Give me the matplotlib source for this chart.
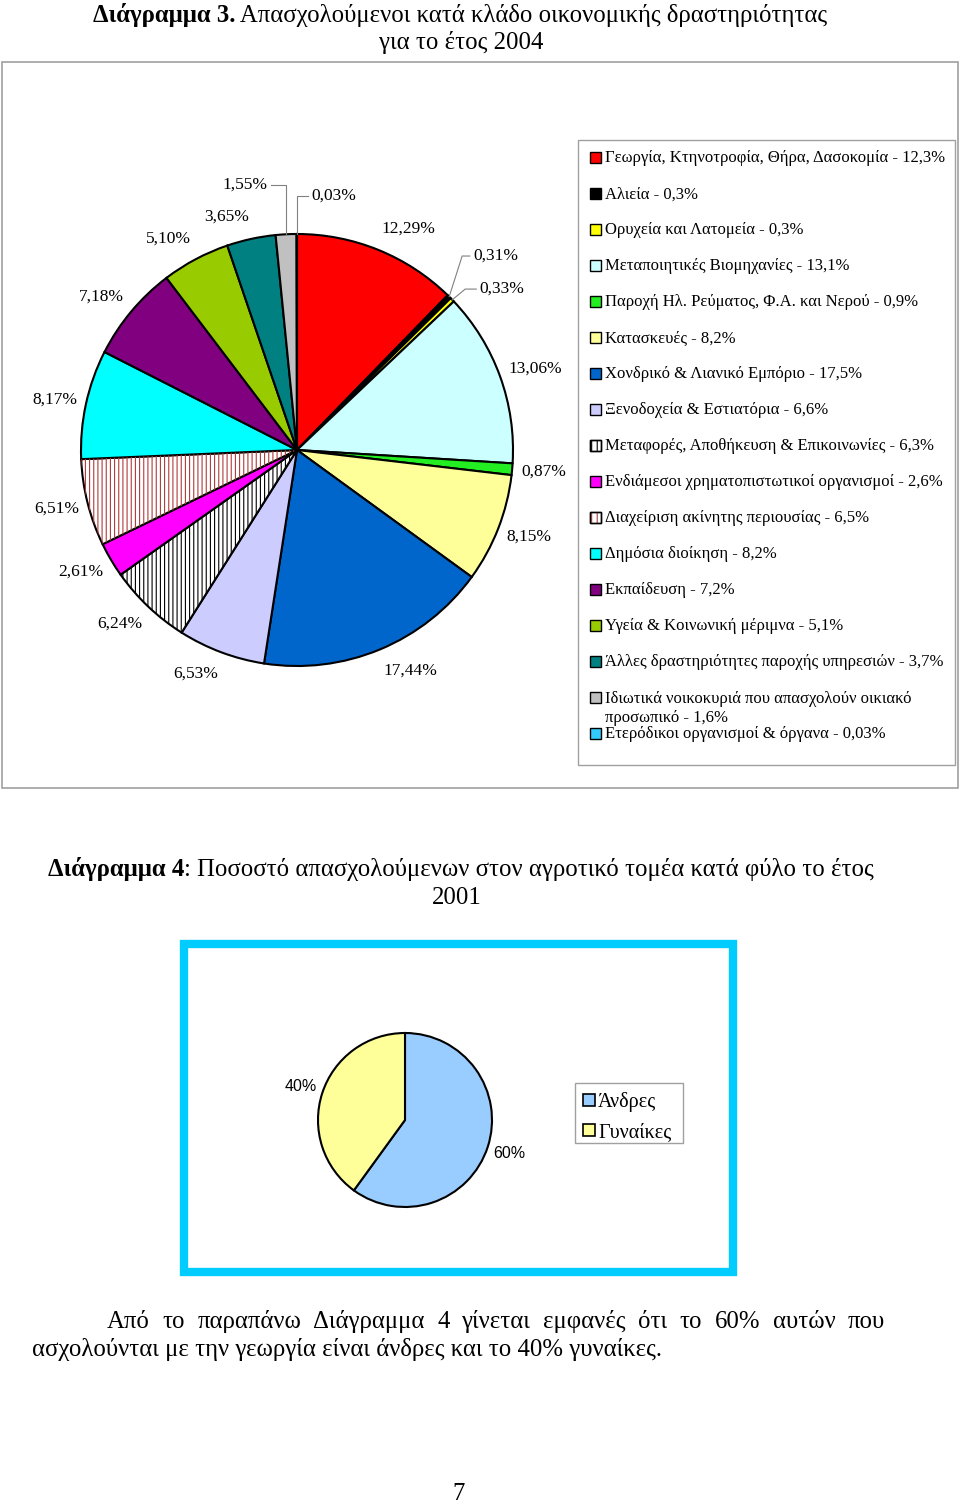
import numpy as np
import matplotlib.pyplot as plt
from matplotlib.patches import Rectangle, Wedge

plt.rcParams['font.family'] = ['Liberation Serif', 'DejaVu Serif']
plt.rcParams['hatch.linewidth'] = 0.8

# Diagram 3: employment by sector, 2004 (pie slice values and legend values)
sectors = ['Γεωργία, Κτηνοτροφία, Θήρα, Δασοκομία', 'Αλιεία', 'Ορυχεία και Λατομεία',
           'Μεταποιητικές Βιομηχανίες', 'Παροχή Ηλ. Ρεύματος, Φ.Α. και Νερού',
           'Κατασκευές ', 'Χονδρικό & Λιανικό Εμπόριο', 'Ξενοδοχεία & Εστιατόρια',
           'Μεταφορές, Αποθήκευση & Επικοινωνίες', 'Ενδιάμεσοι χρηματοπιστωτικοί οργανισμοί ',
           'Διαχείριση ακίνητης περιουσίας', 'Δημόσια διοίκηση ', 'Εκπαίδευση',
           'Υγεία & Κοινωνική μέριμνα', 'Άλλες δραστηριότητες παροχής υπηρεσιών',
           'Ιδιωτικά νοικοκυριά που απασχολούν οικιακό\nπροσωπικό ', 'Ετερόδικοι οργανισμοί & όργανα ']
shares = [12.29, 0.31, 0.33, 13.06, 0.87, 8.15, 17.44, 6.53, 6.24, 2.61, 6.51, 8.17, 7.18, 5.10, 3.65, 1.55, 0.03]
legend_shares = ['12,3%', '0,3%', '0,3%', '13,1%', '0,9%', '8,2%', '17,5%', '6,6%', '6,3%',
                 '2,6%', '6,5%', '8,2%', '7,2%', '5,1%', '3,7%', '1,6%', '0,03%']
colours = ['#FF0000', '#000000', '#FFFF00', '#CCFFFF', '#22EE22', '#FFFF99', '#0066CC', '#CCCCFF',
           '#FFFFFF', '#FF00FF', '#FFFFFF', '#00FFFF', '#800080', '#99CC00', '#008080', '#C0C0C0', '#33CCFF']
hatches = {8: 'black', 10: '#B03A3A'}

# Diagram 4: agriculture by sex, 2001
sexes = ['Άνδρες', 'Γυναίκες']
sex_shares = [60, 40]
sex_colours = ['#99CCFF', '#FFFF99']

fig = plt.figure(figsize=(9.6, 15.05), dpi=100)
bg = fig.add_axes([0, 0, 1, 1])
bg.set_xlim(0, 960)
bg.set_ylim(1505, 0)
bg.axis('off')
W, H = 960.0, 1505.0
BIG = 17.8


def put(x, y, s, size, **kw):
    # y is the visual middle of the capitals of the first line, in page pixels
    kw.setdefault('va', 'baseline')
    y = y + 0.33 * size * 100 / 72 + 19 * s.count('\n')
    return bg.text(x, y, s, fontsize=size, **kw)


def width(t):
    fig.canvas.draw()
    return t.get_window_extent(fig.canvas.get_renderer()).width


# ---------- titles ----------
t1 = put(0, 14, 'Διάγραμμα 3.', BIG, weight='bold')
t2 = put(0, 14, ' Απασχολούμενοι κατά κλάδο οικονομικής δραστηριότητας', BIG)
w1, w2 = width(t1), width(t2)
x0 = 460 - (w1 + w2) / 2
t1.set_x(x0)
t2.set_x(x0 + w1)
put(461, 41, 'για το έτος 2004', BIG, ha='center')

# ---------- diagram 3 ----------
bg.add_patch(Rectangle((2, 62), 956, 726, fill=False, edgecolor='#A0A0A0', lw=1.2))
bg.add_patch(Rectangle((578, 140), 377, 625, fill=False, edgecolor='#A0A0A0', lw=1.0))

cx, cy, R = 297, 450, 216
ax1 = fig.add_axes([(cx - R) / W, 1 - (cy + R) / H, 2 * R / W, 2 * R / H])
wedges, _ = ax1.pie(shares, colors=colours, startangle=90, counterclock=False,
                    wedgeprops=dict(edgecolor='black', linewidth=1.5))
ax1.set_xlim(-1, 1)
ax1.set_ylim(-1, 1)
ax1.axis('off')
for i, c in hatches.items():
    w = wedges[i]
    ax1.add_patch(Wedge(w.center, w.r, w.theta1, w.theta2, fill=False, hatch='||||',
                        edgecolor=c, lw=0))

# label positions for the slices too thin to carry a label (axes units), and their elbows
callouts = {1: ((0.92, 0.898), 0.06), 2: ((0.95, 0.745), 0.06),
            15: ((-0.24, 1.227), 0.0), 16: ((0.17, 1.176), 0.0)}
for i, v in enumerate(shares):
    w = wedges[i]
    mid = np.deg2rad((w.theta1 + w.theta2) / 2)
    lab = ('%.2f%%' % v).replace('.', ',')
    if i in callouts:
        (lx, ly), el = callouts[i]
        ex, ey = np.cos(mid), np.sin(mid)
        side = -1 if lx > ex else 1
        ax1.text(lx, ly, lab, ha='center', va='center', fontsize=12.5)
        half = 0.12
        ax1.plot([lx + side * half, ex + (el if side < 0 else 0), ex],
                 [ly, ly, ey], color='#808080', lw=0.8, clip_on=False)
    else:
        ax1.text(1.042 * np.cos(mid), 1.107 * np.sin(mid), lab,
                 ha='left' if np.cos(mid) > 0 else 'right', va='center', fontsize=12.5)

# legend
for i, name in enumerate(sectors):
    y = 157 + 36 * i
    bg.add_patch(Rectangle((590, y - 5.5), 11, 11, facecolor=colours[i], edgecolor='black', lw=1.0))
    if i in hatches:
        bg.add_patch(Rectangle((590, y - 5.5), 11, 11, fill=False, hatch='|||',
                               edgecolor=hatches[i], lw=0))
        bg.add_patch(Rectangle((590, y - 5.5), 11, 11, fill=False, edgecolor='black', lw=1.0))
    sep = '- ' if name.endswith(' ') else ' - '
    put(605, y, name + sep + legend_shares[i], 12, linespacing=1.2)

# ---------- diagram 4 ----------
t3 = put(48, 868, 'Διάγραμμα 4', BIG, weight='bold')
put(48 + width(t3), 868, ': Ποσοστό απασχολούμενων στον αγροτικό τομέα κατά φύλο το έτος', BIG)
put(457, 896, '2001', BIG, ha='center')

bg.add_patch(Rectangle((184, 944), 549, 328, fill=False, edgecolor='#00CCFF', lw=6))

cx2, cy2, R2 = 405, 1120, 87
ax2 = fig.add_axes([(cx2 - R2) / W, 1 - (cy2 + R2) / H, 2 * R2 / W, 2 * R2 / H])
ax2.pie(sex_shares, colors=sex_colours, startangle=90, counterclock=False,
        labels=['%d%%' % v for v in sex_shares], labeldistance=1.26,
        textprops=dict(family='Liberation Sans', fontsize=11.5, ha='center', va='center'),
        wedgeprops=dict(edgecolor='black', linewidth=1.5))
ax2.set_xlim(-1, 1)
ax2.set_ylim(-1, 1)
ax2.axis('off')

bg.add_patch(Rectangle((575, 1083), 108, 60, fill=False, edgecolor='#A0A0A0', lw=1.0))
for i, name in enumerate(sexes):
    y = 1100 + 30 * i
    bg.add_patch(Rectangle((583, y - 6), 12, 12, facecolor=sex_colours[i], edgecolor='black', lw=1.2))
    put(598, y, name, 14.5)

# ---------- paragraph ----------
words = 'Από το παραπάνω Διάγραμμα 4 γίνεται εμφανές ότι το 60% αυτών που'.split()
ts = [put(0, 1320, wd, BIG) for wd in words]
ws = [width(t) for t in ts]
gap = (885 - 107 - sum(ws)) / (len(ws) - 1)
x = 107
for t, wd in zip(ts, ws):
    t.set_x(x)
    x += wd + gap
put(32, 1348, 'ασχολούνται με την γεωργία είναι άνδρες και το 40% γυναίκες.', BIG)
put(459, 1492, '7', BIG, ha='center')

fig.savefig('out.png', dpi=100)
